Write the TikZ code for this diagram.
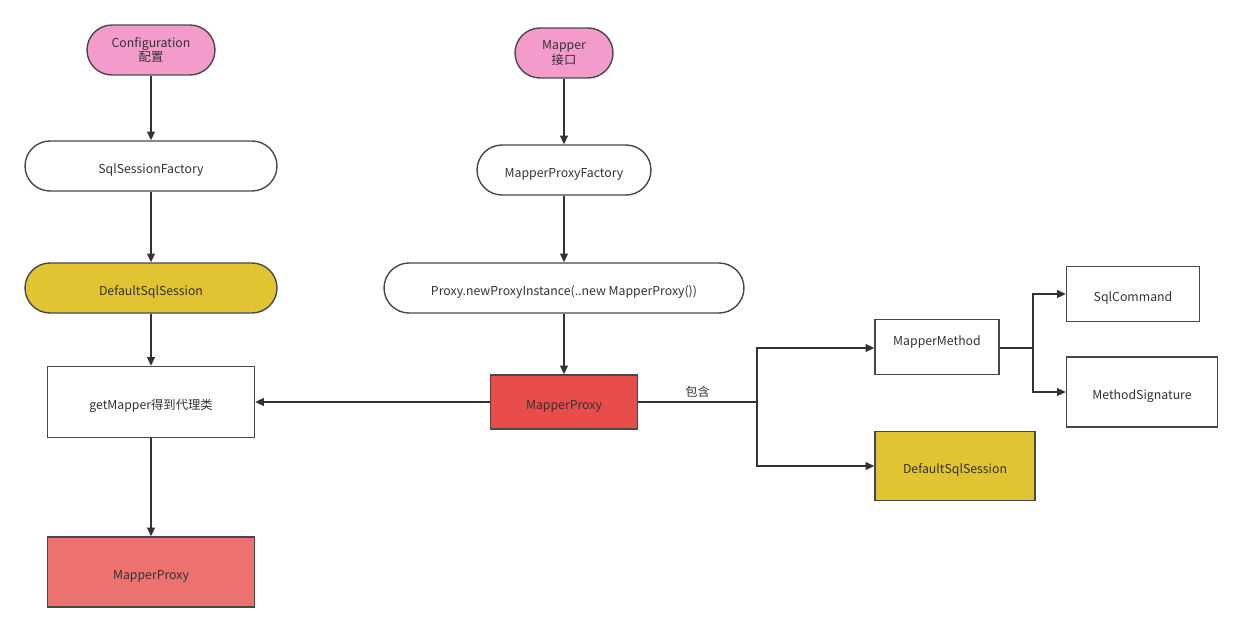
\documentclass[tikz,border=0pt]{standalone}
\usepackage{fontspec}
\setmainfont{Noto Sans CJK SC}
\usetikzlibrary{arrows.meta,positioning}
\definecolor{pinkfill}{HTML}{F39BCB}
\definecolor{yellowfill}{HTML}{E0C431}
\definecolor{redfill}{HTML}{E84C4B}
\definecolor{lightred}{HTML}{EC7270}
\definecolor{edgegray}{HTML}{45494D}
\definecolor{linegray}{HTML}{333333}
\tikzset{
  box/.style={draw=edgegray, line width=0.8pt, fill=white, inner sep=0pt,
    font=\fontsize{7pt}{8.5pt}\selectfont, text=black!80, align=center,
    text height=1.05em, text depth=0.2em},
  pill/.style={box, rounded corners=0.5cm},
  twoline/.style={text height={}, text depth={}},
  link/.style={draw=linegray, line width=0.8pt, -{Triangle[length=5pt,width=4.5pt]}},
  plain/.style={draw=linegray, line width=0.8pt}
}
\begin{document}
\begin{tikzpicture}[x=0.02cm,y=-0.02cm]
        \useasboundingbox (0,0) rectangle (1243,632);
        % left column
        \node (config) [pill, twoline, fill=pinkfill, minimum width=2.56cm, minimum height=1cm] at (151,50) {Configuration\\配置};
        \node (factory) [pill, minimum width=5.04cm, minimum height=1cm] at (151,166) {SqlSessionFactory};
        \node (session) [pill, fill=yellowfill, minimum width=5.04cm, minimum height=1cm] at (151,288) {DefaultSqlSession};
        \node (getmapper) [box, minimum width=4.14cm, minimum height=1.42cm] at (151,402) {getMapper得到代理类};
        \node (proxyout) [box, fill=lightred, minimum width=4.14cm, minimum height=1.4cm] at (151,572) {MapperProxy};
        % middle column
        \node (mapper) [pill, twoline, fill=pinkfill, minimum width=1.96cm, minimum height=1cm] at (564,53) {Mapper\\接口};
        \node (proxyfactory) [pill, minimum width=3.48cm, minimum height=1cm] at (564,170) {MapperProxyFactory};
        \node (newproxy) [pill, minimum width=7.2cm, minimum height=1cm] at (564,288) {Proxy.newProxyInstance(..new MapperProxy())};
        \node (proxy) [box, fill=redfill, minimum width=2.94cm, minimum height=1.08cm] at (564,402) {MapperProxy};
        % right part
        \node (method) [box, minimum width=2.48cm, minimum height=1.1cm, text depth=0.43cm] at (937,347) {MapperMethod};
        \node (session2) [box, fill=yellowfill, minimum width=3.2cm, minimum height=1.38cm] at (955,466) {DefaultSqlSession};
        \node (command) [box, minimum width=2.66cm, minimum height=1.1cm] at (1133,294) {SqlCommand};
        \node (signature) [box, minimum width=3.02cm, minimum height=1.4cm] at (1142,392) {MethodSignature};
        \coordinate (split) at (757,402);
        \coordinate (split2) at (1033,348);

        \draw [link] (config) -- (factory);
        \draw [link] (factory) -- (session);
        \draw [link] (session) -- (getmapper);
        \draw [link] (getmapper) -- (proxyout);
        \draw [link] (mapper) -- (proxyfactory);
        \draw [link] (proxyfactory) -- (newproxy);
        \draw [link] (newproxy) -- (proxy);
        \draw [link] (proxy) -- (getmapper);
        \draw [plain] (proxy) -- node [above=1pt, box, draw=none, fill=none] {包含} (split);
        \draw [link] (split) |- (method.west |- 0,348);
        \draw [link] (split) |- (session2);
        \draw [plain] (method.east |- 0,348) -- (split2);
        \draw [link] (split2) |- (command);
        \draw [link] (split2) |- (signature);
\end{tikzpicture}
\end{document}
